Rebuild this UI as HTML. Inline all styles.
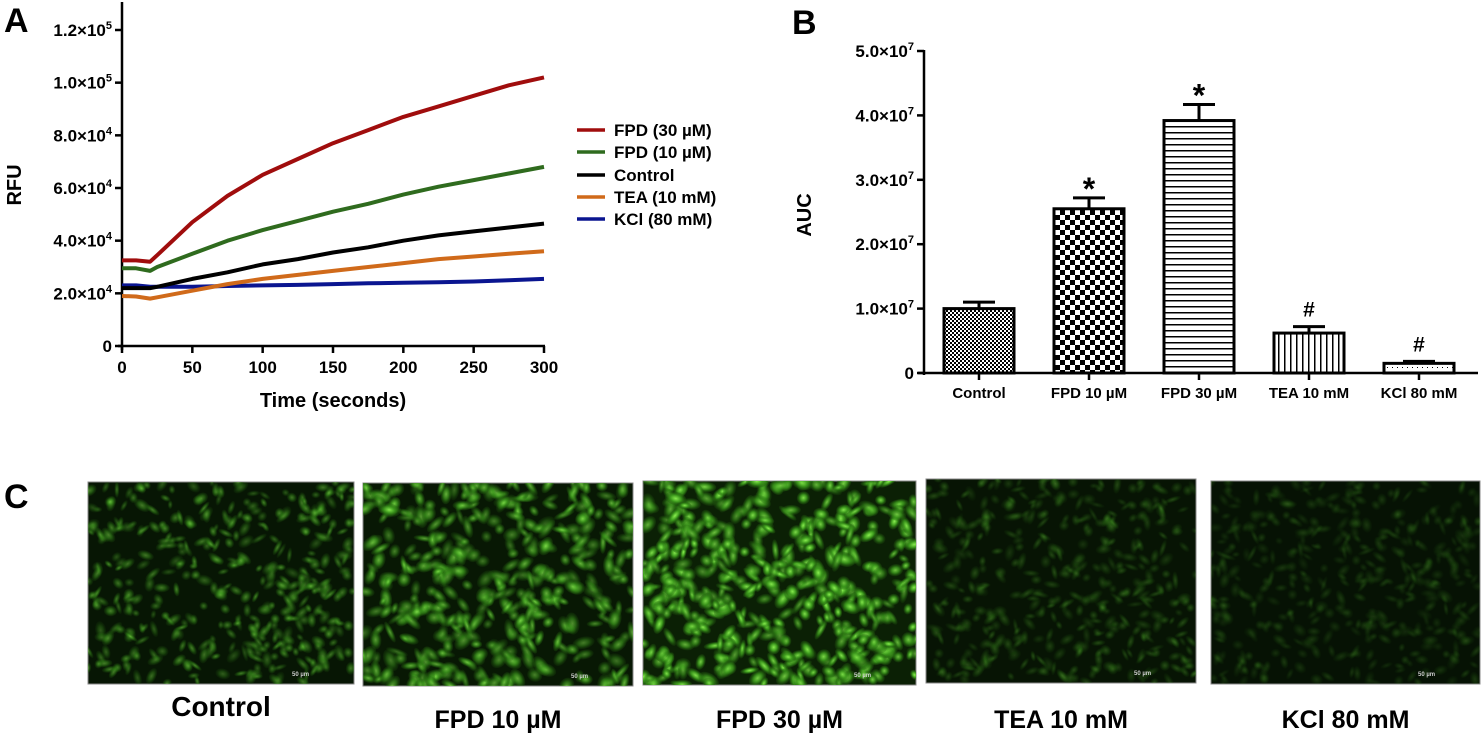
<!DOCTYPE html>
<html><head><meta charset="utf-8"><style>
body{margin:0;background:#fff;width:1484px;height:736px;overflow:hidden;font-family:"Liberation Sans",Arial,sans-serif}
svg text{font-family:"Liberation Sans",Arial,sans-serif;font-weight:bold}
</style></head><body>
<svg id="fig" width="1484" height="736">
<defs>
<pattern id="pCtrl" width="4" height="4" patternUnits="userSpaceOnUse"><rect width="4" height="4" fill="#fff"/><rect width="2" height="2" fill="#000"/><rect x="2" y="2" width="2" height="2" fill="#000"/></pattern>
<pattern id="pF10" width="10" height="10" patternUnits="userSpaceOnUse"><rect width="10" height="10" fill="#fff"/><rect width="5" height="5" fill="#000"/><rect x="5" y="5" width="5" height="5" fill="#000"/></pattern>
<pattern id="pF30" width="6" height="6" patternUnits="userSpaceOnUse"><rect width="6" height="6" fill="#fff"/><rect width="6" height="1.5" fill="#000"/></pattern>
<pattern id="pTEA" width="6" height="6" patternUnits="userSpaceOnUse"><rect width="6" height="6" fill="#fff"/><rect width="1.5" height="6" fill="#000"/></pattern>
<pattern id="pKCl" width="5" height="5" patternUnits="userSpaceOnUse"><rect width="5" height="5" fill="#fff"/><rect x="2" y="2" width="1" height="1" fill="#000"/></pattern>
<radialGradient id="cellG"><stop offset="0" stop-color="#8af050"/><stop offset="0.5" stop-color="#3c9a1c"/><stop offset="1" stop-color="#1f5a0c" stop-opacity="0.3"/></radialGradient>
</defs>
<text x="4" y="32" font-size="34">A</text>
<text x="792" y="34" font-size="34">B</text>
<text x="4" y="508" font-size="34">C</text>
<g id="gA"></g>
<g id="gB"></g>
<g id="gC"></g>
</svg>
<script>
const NS="http://www.w3.org/2000/svg";
function mk(tag,attrs,parent,text){const e=document.createElementNS(NS,tag);for(const k in attrs)e.setAttribute(k,attrs[k]);if(text!==undefined)e.textContent=text;parent.appendChild(e);return e;}

// ---- Panel A data ----
const timePoints=[0,10,20,25,50,75,100,125,150,175,200,225,250,275,300];
const fpd30=[32.5,32.5,32,34.5,47,57,65,71,77,82,87,91,95,99,102];
const fpd10=[29.5,29.5,28.5,30,35,40,44,47.5,51,54,57.5,60.5,63,65.5,68];
const control=[22,22,22,22.5,25.5,28,31,33,35.5,37.5,40,42,43.5,45,46.5];
const tea=[19,18.8,18,18.5,21,23.5,25.5,27,28.5,30,31.5,33,34,35,36];
const kcl=[23,23,22.5,22.5,22.5,22.8,23,23.2,23.5,23.8,24,24.2,24.5,25,25.5];
const seriesNames=["FPD (30 µM)","FPD (10 µM)","Control","TEA (10 mM)","KCl (80 mM)"];
const seriesColors=["#a00d0d","#2f6b1e","#000000","#d06a1a","#0a1590"];
const yTicksA=[0,20,40,60,80,100,120];
const yTickLabelsA=["0","2.0×10⁴","4.0×10⁴","6.0×10⁴","8.0×10⁴","1.0×10⁵","1.2×10⁵"];
const xTicksA=[0,50,100,150,200,250,300];

const gA=document.getElementById('gA');
const xA=t=>122+t/300*422;
const yA=v=>346-v/120*316;
let e;
e=mk('line',{x1:122,y1:2,x2:122,y2:350,stroke:'#000','stroke-width':2.5},gA);


e=mk('line',{x1:118,y1:346,x2:545,y2:346,stroke:'#000','stroke-width':2.5},gA);


yTicksA.forEach((v,i)=>{
 mk('line',{x1:115,y1:yA(v),x2:122,y2:yA(v),stroke:'#000','stroke-width':2.5},gA);
 let lbl=yTickLabelsA[i];
 let t=mk('text',{x:112,y:yA(v)+6,'font-size':17,'text-anchor':'end'},gA);
 if(lbl.includes('×')){const parts=lbl.split('×10');t.textContent=parts[0]+'×10';mk('tspan',{dy:-7,'font-size':11},t,parts[1]==='⁴'?'4':'5');}
 else t.textContent=lbl;
 
 
});
xTicksA.forEach(v=>{
 mk('line',{x1:xA(v),y1:346,x2:xA(v),y2:353,stroke:'#000','stroke-width':2.5},gA);
 let t=mk('text',{x:xA(v),y:373,'font-size':17,'text-anchor':'middle'},gA,String(v));
 
 
});
e=mk('text',{x:333,y:407,'font-size':20,'text-anchor':'middle'},gA,'Time (seconds)');


e=mk('text',{x:0,y:0,'font-size':20,'text-anchor':'middle',transform:'translate(21,185) rotate(-90)'},gA,'RFU');


[kcl,tea,control,fpd10,fpd30].forEach((s,idx)=>{
 const ci=[4,3,2,1,0][idx];
 const d=s.map((v,i)=>(i?'L':'M')+xA(timePoints[i]).toFixed(1)+','+yA(v).toFixed(1)).join('');
 const p=mk('path',{d:d,fill:'none',stroke:seriesColors[ci],'stroke-width':4,'stroke-linejoin':'round'},gA);
 
 
});
const legY=[130,152,175,197,219];
seriesNames.forEach((n,i)=>{
 mk('line',{x1:577,y1:legY[i],x2:605,y2:legY[i],stroke:seriesColors[i],'stroke-width':3.5},gA);
 const t=mk('text',{x:614,y:legY[i]+6,'font-size':17},gA,n);
 
 
});

// ---- Panel B data ----
const categories=["Control","FPD 10 µM","FPD 30 µM","TEA 10 mM","KCl 80 mM"];
const aucValues=[1.0,2.55,3.92,0.62,0.15];
const aucErrors=[0.1,0.17,0.25,0.1,0.03];
const sigMarks=["","*","*","#","#"];
const yTicksB=[0,1,2,3,4,5];
const fills=["url(#pCtrl)","url(#pF10)","url(#pF30)","url(#pTEA)","url(#pKCl)"];
const gB=document.getElementById('gB');
const yB=v=>373-v/5*322;
const xB=i=>979+i*110;
e=mk('line',{x1:924,y1:50,x2:924,y2:375,stroke:'#000','stroke-width':2.5},gB);


e=mk('line',{x1:918,y1:373,x2:1478,y2:373,stroke:'#000','stroke-width':2.5},gB);


yTicksB.forEach(v=>{
 mk('line',{x1:917,y1:yB(v),x2:924,y2:yB(v),stroke:'#000','stroke-width':2.5},gB);
 const t=mk('text',{x:914,y:yB(v)+6,'font-size':17,'text-anchor':'end'},gB,v===0?'0':v.toFixed(1)+'×10');
 if(v!==0)mk('tspan',{dy:-7,'font-size':11},t,'7');
 
 
});
e=mk('text',{x:0,y:0,'font-size':20,'text-anchor':'middle',transform:'translate(811,215) rotate(-90)'},gB,'AUC');


categories.forEach((c,i)=>{
 const cx=xB(i);
 const top=yB(aucValues[i]+aucErrors[i]);
 mk('line',{x1:cx,y1:yB(aucValues[i]),x2:cx,y2:top,stroke:'#000','stroke-width':3},gB);
 mk('line',{x1:cx-16,y1:top,x2:cx+16,y2:top,stroke:'#000','stroke-width':3},gB);
 const r=mk('rect',{x:cx-35,y:yB(aucValues[i]),width:70,height:373-yB(aucValues[i]),fill:fills[i],stroke:'#000','stroke-width':3},gB);
 
 
 mk('line',{x1:cx,y1:373,x2:cx,y2:380,stroke:'#000','stroke-width':2.5},gB);
 const t=mk('text',{x:cx,y:398,'font-size':15,'text-anchor':'middle'},gB,c);
 
 
 if(sigMarks[i]){
  const star=sigMarks[i]==='*';
  const s=mk('text',{x:cx,y:star?top+2:top-10,'font-size':star?32:21,'text-anchor':'middle'},gB,sigMarks[i]);
  
  
 }
});

// ---- Panel C images ----
const imgBoxes=[[88,482,266,202],[363,483,270,203],[643,481,273,204],[926,479,270,204],[1211,481,269,203]];
const imgLabels=["Control","FPD 10 µM","FPD 30 µM","TEA 10 mM","KCl 80 mM"];
const brightness=[0.5,0.75,1.0,0.25,0.17];
const labelY=[716,728,728,728,728];
const gC=document.getElementById('gC');
let seed=7;function rnd(){seed=(seed*16807)%2147483647;return seed/2147483647;}
imgBoxes.forEach((b,i)=>{
 const g=mk('g',{},gC);
 
 
 mk('clipPath',{id:'clip'+i},g);
 mk('rect',{x:b[0],y:b[1],width:b[2],height:b[3]},g.lastChild);
 mk('rect',{x:b[0],y:b[1],width:b[2],height:b[3],fill:['#071604','#081804','#0b2005','#071404','#061204'][i],stroke:'#888','stroke-width':1},g);
 const cg=mk('g',{'clip-path':`url(#clip${i})`},g);
 const n=i===2?480:420;
 for(let k=0;k<n;k++){
  const cx=b[0]+rnd()*b[2],cy=b[1]+rnd()*b[3];
  const sc=i===2||i===1?1.3:1;
  mk('ellipse',{cx:cx,cy:cy,rx:(4+rnd()*5)*sc,ry:(2.5+rnd()*3)*sc,fill:'url(#cellG)',opacity:brightness[i]*(0.5+rnd()*0.5),transform:`rotate(${rnd()*180} ${cx} ${cy})`},cg);
 }
 mk('text',{x:b[0]+b[2]-62,y:b[1]+b[3]-8,'font-size':6,fill:'#ccc','font-weight':'normal'},g,'50 µm');
 const t=mk('text',{x:b[0]+b[2]/2,y:labelY[i],'font-size':i===0?28:25,'text-anchor':'middle'},gC,imgLabels[i]);
 
 
});
</script>
</body></html>
